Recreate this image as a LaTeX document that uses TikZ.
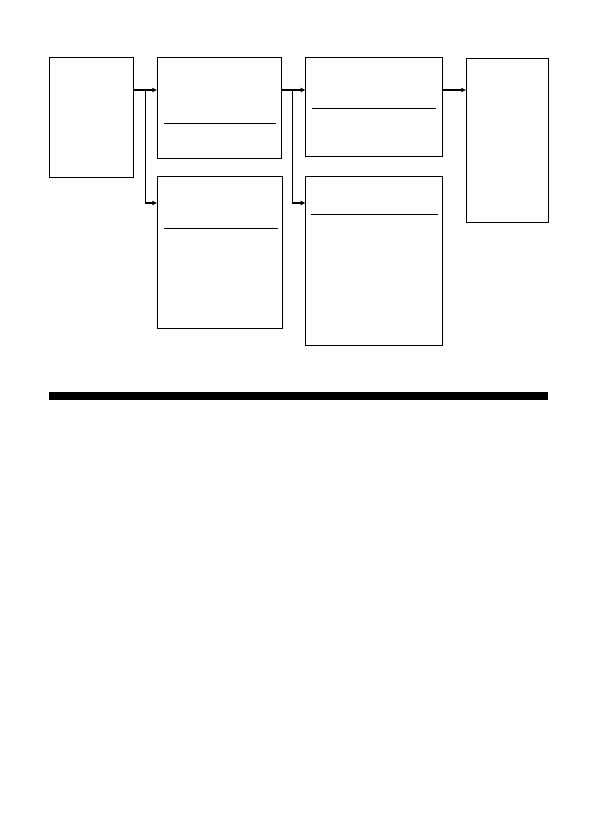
\documentclass[tikz,border=0pt]{standalone}
\usetikzlibrary{arrows.meta}
\begin{document}
\begin{tikzpicture}[x=1pt,y=-1pt,
  box/.style={draw=black,line width=1.2pt,fill=white,inner sep=0pt,outer sep=0pt},
  arr/.style={line width=1.1pt,-{Latex[length=5pt,width=5pt]}},
  divider/.style={line width=1.2pt}]
\useasboundingbox (0,0) rectangle (596,840);
\node[box,minimum width=84.4pt,minimum height=120pt] (A) at (91.5,117.3) {};
\node[box,minimum width=124.4pt,minimum height=101pt] (B) at (219.5,107.8) {};
\node[box,minimum width=125.4pt,minimum height=152pt] (C) at (220,252.3) {};
\node[box,minimum width=137pt,minimum height=99.4pt] (D) at (374.2,107) {};
\node[box,minimum width=137pt,minimum height=169pt] (E) at (374.2,260.8) {};
\node[box,minimum width=82.4pt,minimum height=164pt] (F) at (507.5,140.3) {};
% dividers
\draw[divider] (164,123.3) -- (276,123.3);
\draw[divider] (164,228.3) -- (278,228.3);
\draw[divider] (312,108.3) -- (436,108.3);
\draw[divider] (311,214.3) -- (438,214.3);
% connectors
\coordinate (r) at (0,90);
\coordinate (low) at (0,203);
\coordinate (j1) at (145.3,90);
\coordinate (j2) at (292.3,90);
\draw[arr] (A.east |- r) -- (B.west |- r);
\draw[arr] (j1) |- (C.west |- low);
\draw[arr] (B.east |- r) -- (D.west |- r);
\draw[arr] (j2) |- (E.west |- low);
\draw[arr] (D.east |- r) -- (F.west |- r);
% bar
\fill[black] (49,392) rectangle (548,400);
\end{tikzpicture}
\end{document}
